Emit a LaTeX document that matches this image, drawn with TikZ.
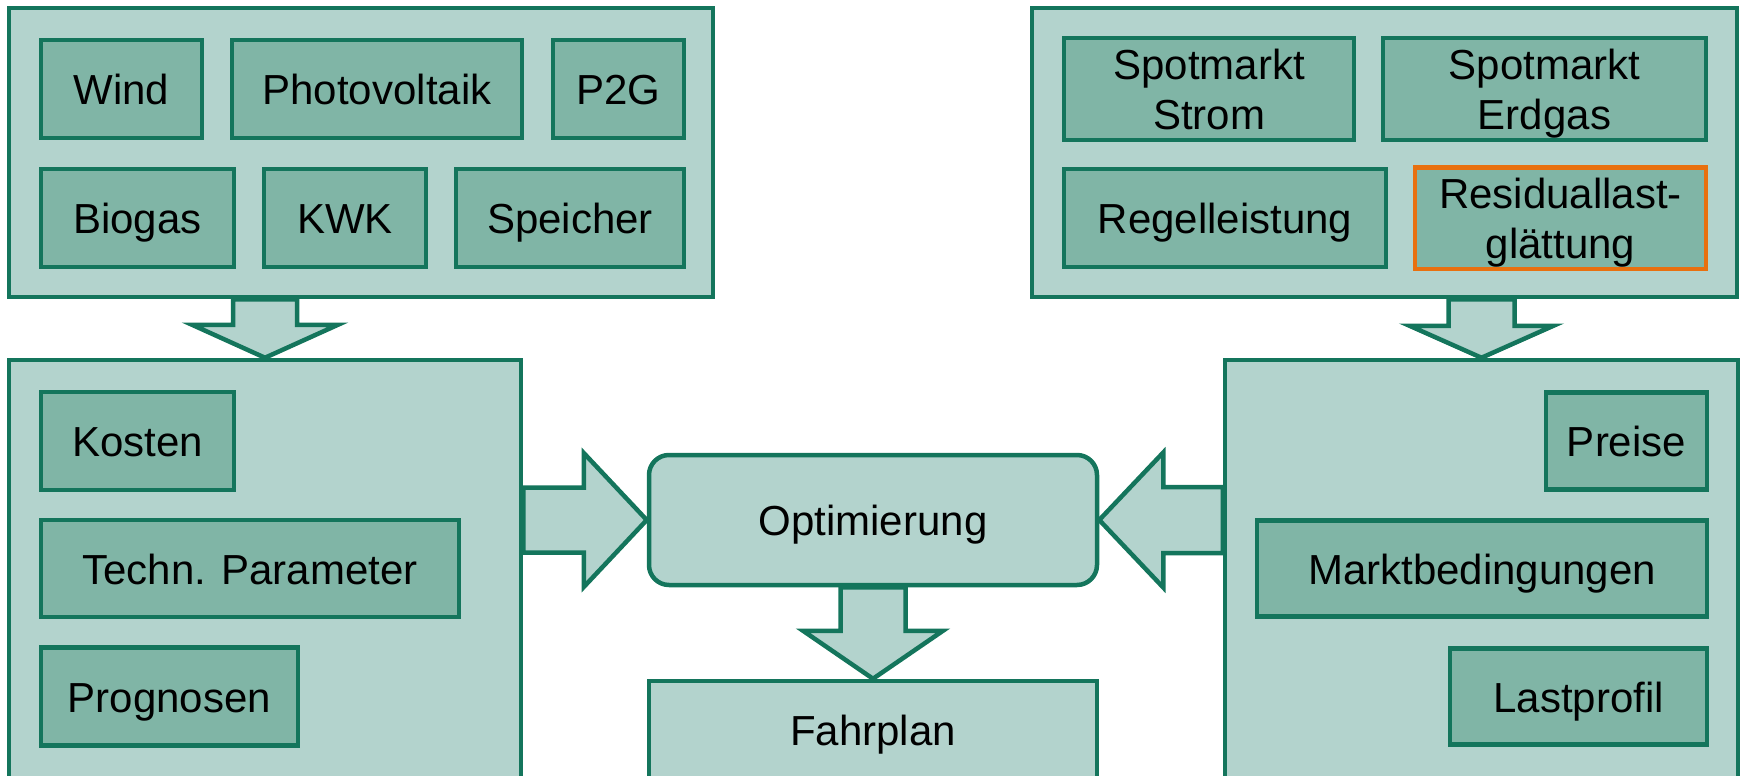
\documentclass[tikz,border=0pt]{standalone}
\usepackage{fontspec}
\setmainfont{Liberation Sans}
\usetikzlibrary{calc}
\definecolor{lightg}{HTML}{B3D3CD}
\definecolor{midg}{HTML}{80B5A6}
\definecolor{darkg}{HTML}{14755C}
\definecolor{orng}{HTML}{E8700F}
\begin{document}
\begin{tikzpicture}[x=1pt,y=-1pt,
  lbl/.style={align=center, font=\fontsize{42}{50}\selectfont, text height=42pt, text depth=10.5pt},
  twoline/.style={text height=91pt},
  outerbox/.style={draw=darkg, fill=lightg, line width=4.5pt, rectangle, inner sep=0pt},
  innerbox/.style={draw=darkg, fill=midg, line width=4.5pt, rectangle, inner sep=0pt, lbl},
  lightbox/.style={draw=darkg, fill=lightg, line width=4.5pt, rectangle, inner sep=0pt, lbl},
  barrow/.style={draw=darkg, fill=lightg, line width=4.5pt, line join=miter},
]
\useasboundingbox (0,0) rectangle (1741,776);
\clip (0,0) rectangle (1741,776);

% outer boxes
\node[outerbox, minimum width=704pt, minimum height=289pt] (tl) at (361,152.5) {};
\node[outerbox, minimum width=705pt, minimum height=289pt] (tr) at (1384.5,152.5) {};
\node[outerbox, minimum width=512pt, minimum height=430pt] (bl) at (265,575) {};
\node[outerbox, minimum width=513pt, minimum height=430pt] (br) at (1481.5,575) {};

% top-left contents
\node[innerbox, minimum width=161pt, minimum height=98pt] (wind) at (121.5,89) {Wind};
\node[innerbox, minimum width=290pt, minimum height=98pt] (pv) at (377,89) {Photovoltaik};
\node[innerbox, minimum width=131pt, minimum height=98pt] (p2g) at (618.5,89) {P2G};
\node[innerbox, minimum width=193pt, minimum height=98pt] (bio) at (137.5,218) {Biogas};
\node[innerbox, minimum width=162pt, minimum height=98pt] (kwk) at (345,218) {KWK};
\node[innerbox, minimum width=228pt, minimum height=98pt] (sp) at (570,218) {Speicher};

% top-right contents
\node[innerbox, twoline, minimum width=290pt, minimum height=98pt] (sms) at (1209,89) {Spotmarkt\\Strom};
\node[innerbox, twoline, minimum width=323pt, minimum height=98pt] (sme) at (1544.5,89) {Spotmarkt\\Erdgas};
\node[innerbox, minimum width=322pt, minimum height=98pt] (rl) at (1225,218) {Regelleistung};
\node[innerbox, twoline, draw=orng, minimum width=291pt, minimum height=98pt] (res) at (1560.5,218) {Residuallast-\\glättung};

% bottom-left contents
\node[innerbox, minimum width=193pt, minimum height=98pt] (kos) at (137.5,441) {Kosten};
\node[innerbox, minimum width=418pt, minimum height=97pt] (tp) at (250,568.5) {Techn. Parameter};
\node[innerbox, minimum width=257pt, minimum height=98pt] (pro) at (169.5,696.5) {Prognosen};

% bottom-right contents
\node[innerbox, minimum width=161pt, minimum height=97pt] (pre) at (1626.5,441) {Preise};
\node[innerbox, minimum width=450pt, minimum height=96pt] (mb) at (1482,568.5) {Marktbedingungen};
\node[innerbox, minimum width=257pt, minimum height=96pt] (lp) at (1578.5,696.5) {Lastprofil};

% centre
\node[lightbox, rounded corners=20pt, minimum width=448pt, minimum height=130pt] (opt) at (873,520) {Optimierung};
\node[lightbox, minimum width=448pt, minimum height=98pt] (fp) at (873,730) {Fahrplan};

% block arrows
\coordinate (a1s) at (bl.north |- tl.south);
\coordinate (a1t) at (bl.north);
\draw[barrow] ($(a1s)+(-32,0)$) -- ($(a1t)+(-32,-33)$) -- ($(a1t)+(-73,-33)$) -- (a1t)
  -- ($(a1t)+(73,-33)$) -- ($(a1t)+(32,-33)$) -- ($(a1s)+(32,0)$) -- cycle;

\coordinate (a2s) at (br.north |- tr.south);
\coordinate (a2t) at (br.north);
\draw[barrow] ($(a2s)+(-33,0)$) -- ($(a2t)+(-33,-32)$) -- ($(a2t)+(-72,-32)$) -- (a2t)
  -- ($(a2t)+(72,-32)$) -- ($(a2t)+(33,-32)$) -- ($(a2s)+(33,0)$) -- cycle;

\coordinate (a3s) at (bl.east |- opt.west);
\coordinate (a3t) at (opt.west);
\draw[barrow] ($(a3s)+(0,-32.5)$) -- ($(a3t)+(-63,-32.5)$) -- ($(a3t)+(-63,-67)$) -- (a3t)
  -- ($(a3t)+(-63,67)$) -- ($(a3t)+(-63,32.5)$) -- ($(a3s)+(0,32.5)$) -- cycle;

\coordinate (a4s) at (br.west |- opt.east);
\coordinate (a4t) at (opt.east);
\draw[barrow] ($(a4s)+(0,-33)$) -- ($(a4t)+(64,-33)$) -- ($(a4t)+(64,-67.5)$) -- (a4t)
  -- ($(a4t)+(64,67.5)$) -- ($(a4t)+(64,33)$) -- ($(a4s)+(0,33)$) -- cycle;

\coordinate (a5s) at (opt.south);
\coordinate (a5t) at (fp.north);
\draw[barrow] ($(a5s)+(-32.5,0)$) -- ($(a5t)+(-32.5,-48)$) -- ($(a5t)+(-70,-48)$) -- (a5t)
  -- ($(a5t)+(70,-48)$) -- ($(a5t)+(32.5,-48)$) -- ($(a5s)+(32.5,0)$) -- cycle;
\end{tikzpicture}
\end{document}
